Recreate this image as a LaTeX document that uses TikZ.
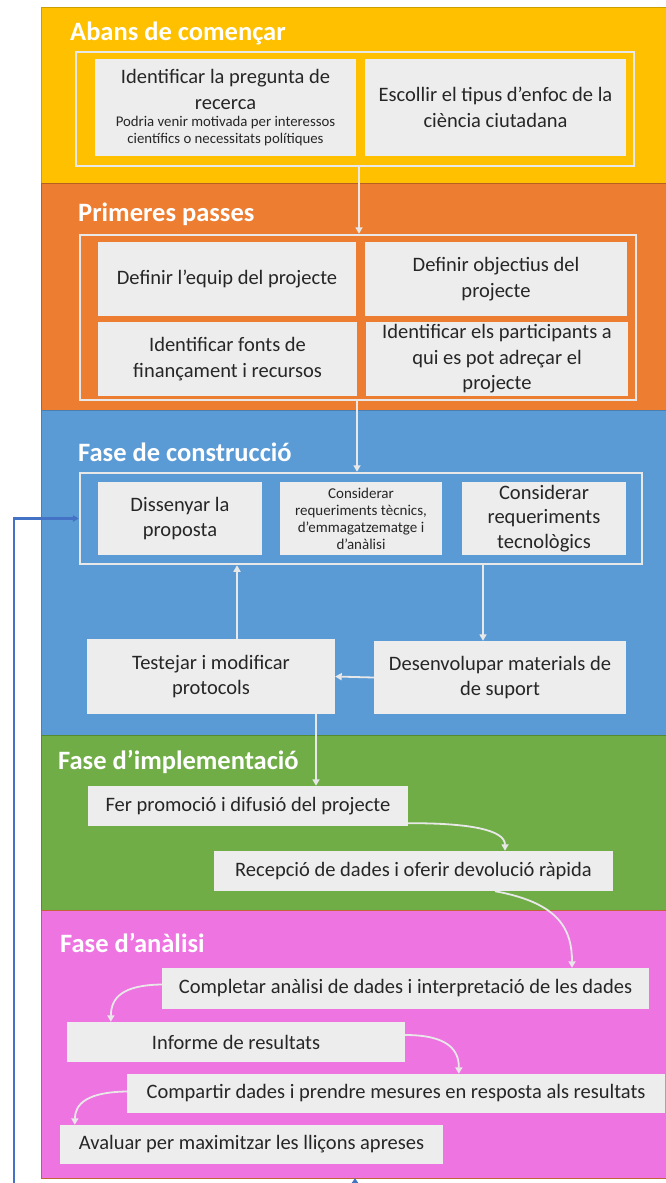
\documentclass[tikz,border=0pt]{standalone}
\usepackage{fontspec}
\setmainfont{Carlito}
\usetikzlibrary{arrows.meta,calc}
\definecolor{cyel}{HTML}{FFC000}
\definecolor{cyelb}{HTML}{C9A000}
\definecolor{cora}{HTML}{ED7D31}
\definecolor{corab}{HTML}{B85F22}
\definecolor{cblu}{HTML}{5B9BD5}
\definecolor{cblub}{HTML}{4A7FB0}
\definecolor{cgre}{HTML}{70AD47}
\definecolor{cgreb}{HTML}{558A33}
\definecolor{cpin}{HTML}{EE74E1}
\definecolor{cpinb}{HTML}{C0653A}
\definecolor{boxg}{HTML}{EDEDED}
\definecolor{framec}{HTML}{E8E8E8}
\definecolor{txt}{HTML}{262626}
\definecolor{fbblue}{HTML}{4472C4}
\newcommand{\fsz}[2]{\fontsize{#1}{#2}\selectfont}
\tikzset{
  panel/.style={line width=1pt},
  ptitle/.style={anchor=west, text=white, font=\fsz{26.5}{30}\bfseries, inner sep=0pt},
  box/.style={fill=boxg, draw=none, inner sep=0pt, align=flush center, text=txt, font=\fsz{20.5}{25.5}},
  frame/.style={draw=framec, line width=2.5pt, fill=none, inner sep=0pt},
  arr/.style={draw=framec, line width=1.8pt, -{Triangle[length=6.5pt,width=7pt]}},
  fb/.style={draw=fbblue, line width=2.2pt},
}
\begin{document}
\begin{tikzpicture}[x=1pt,y=-1pt]
\useasboundingbox (0,0) rectangle (665,1183);
\fill[white] (0,0) rectangle (665,1183);
% panels
\draw[panel, fill=cyel, draw=cyelb] (41,7) rectangle (672,183);
\draw[panel, fill=cora, draw=corab] (41,183) rectangle (672,410);
\draw[panel, fill=cblu, draw=cblub] (41,410) rectangle (672,735);
\draw[panel, fill=cgre, draw=cgreb] (41,735) rectangle (672,910);
\draw[panel, fill=cpin, draw=cpinb] (41,910) rectangle (672,1178);
\node[draw=none, inner sep=0pt, minimum width=631pt, minimum height=268pt] (p5) at (356.5,1044) {};
% titles
\node[ptitle] (t1) at (70,33) {Abans de començar};
\node[ptitle] (t2) at (78,214) {Primeres passes};
\node[ptitle] (t3) at (78,452) {Fase de construcció};
\node[ptitle] (t4) at (58,762) {Fase d’implementació};
\node[ptitle] (t5) at (60,943) {Fase d’anàlisi};
% panel 1
\node[frame, minimum width=558pt, minimum height=114pt] (f1) at (355,109) {};
\node[box, minimum width=261pt, minimum height=97pt, text width=255pt] (b11) at (225.5,107.5)
  {Identificar la pregunta de\par recerca\par\fsz{14.8}{17}Podria venir motivada per interessos\par científics o necessitats polítiques\par};
\node[box, minimum width=261pt, minimum height=97pt, text width=255pt] (b12) at (495.5,107.5)
  {Escollir el tipus d’enfoc de la\\ciència ciutadana};
% panel 2
\node[frame, minimum width=556pt, minimum height=165pt] (f2) at (358,317.5) {};
\node[box, minimum width=258pt, minimum height=74pt, text width=250pt] (b21) at (227,279) {Definir l’equip del projecte};
\node[box, minimum width=262pt, minimum height=74pt, text width=250pt] (b22) at (496,279) {Definir objectius del\\projecte};
\node[box, minimum width=259pt, minimum height=74pt, text width=250pt] (b23) at (227.5,359) {Identificar fonts de\\finançament i recursos};
\node[box, minimum width=262pt, minimum height=74pt, text width=255pt] (b24) at (497,359) {Identificar els participants a\\qui es pot adreçar el\\projecte};
% panel 3
\node[frame, minimum width=562pt, minimum height=91pt] (f3) at (361,518.5) {};
\node[box, minimum width=164pt, minimum height=73pt, text width=160pt] (b31) at (180,518.5) {Dissenyar la\\proposta};
\node[box, minimum width=162pt, minimum height=73pt, text width=160pt, font=\fsz{15}{17}] (b32) at (361,518.5) {Considerar\\requeriments tècnics,\\d’emmagatzematge i\\d’anàlisi};
\node[box, minimum width=164pt, minimum height=73pt, text width=160pt, font=\fsz{20.5}{24.5}] (b33) at (544,518.5) {Considerar\\requeriments\\tecnològics};
\node[box, minimum width=248pt, minimum height=75pt, text width=240pt] (b34) at (211,676.5) {Testejar i modificar\\protocols};
\node[box, minimum width=252pt, minimum height=73pt, text width=245pt] (b35) at (500,677.5) {Desenvolupar materials de\\de suport};
% panel 4
\node[box, minimum width=320pt, minimum height=40pt] (b41) at (248,806) {Fer promoció i difusió del projecte};
\node[box, minimum width=399pt, minimum height=40pt] (b42) at (413.5,871) {Recepció de dades i oferir devolució ràpida};
% panel 5
\node[box, minimum width=487pt, minimum height=41pt] (b51) at (405.5,988.5) {Completar anàlisi de dades i interpretació de les dades};
\node[box, minimum width=338pt, minimum height=40pt] (b52) at (236,1042) {Informe de resultats};
\node[box, minimum width=538pt, minimum height=39pt] (b53) at (396,1093.5) {Compartir dades i prendre mesures en resposta als resultats};
\node[box, minimum width=383pt, minimum height=39pt] (b54) at (251.5,1144.5) {Avaluar per maximitzar les lliçons apreses};
% connectors
\draw[arr] ([xshift=4pt]f1.south) -- ([xshift=4pt]f1.south |- f2.north);
\draw[arr] ([xshift=-1pt]f2.south) -- ([xshift=-1pt]f2.south |- f3.north);
\draw[arr] ([xshift=-17pt]b35.north |- f3.south) -- ([xshift=-17pt]b35.north);
\draw[arr] (b35.west) -- (b34.east);
\draw[arr] ([xshift=26pt]b34.north) -- ([xshift=26pt]b34.north |- f3.south);
\draw[arr] ([xshift=105pt]b34.south) -- ([xshift=105pt]b34.south |- b41.north);
\draw[arr] ([yshift=3pt]b41.south east) .. controls (470,823) and (505,830) .. ([xshift=91.5pt]b42.north);
\draw[arr] ([xshift=81.5pt]b42.south) .. controls (560,903) and (572,930) .. ([xshift=166.5pt]b51.north);
\draw[arr] ([yshift=4pt]b51.west) .. controls (122,985) and (111,998) .. ([xshift=44pt]b52.north west);
\draw[arr] ([yshift=7pt]b52.east) .. controls (448,1035) and (459,1050) .. ([xshift=332pt]b53.north west);
\draw[arr] ([yshift=2pt]b53.west) .. controls (87,1092) and (75,1104) .. ([xshift=15pt]b54.north west);
% feedback line
\coordinate (fbs) at (14,1190);
\coordinate (fbe) at (355,1190);
\draw[fb, -{Triangle[length=6pt,width=6.5pt]}] (fbs) -- (14,518.5) -- (f3.west);
\draw[fb, -{Triangle[length=5pt,width=6.5pt]}] (fbe) -- (fbe |- p5.south);
\end{tikzpicture}
\end{document}
